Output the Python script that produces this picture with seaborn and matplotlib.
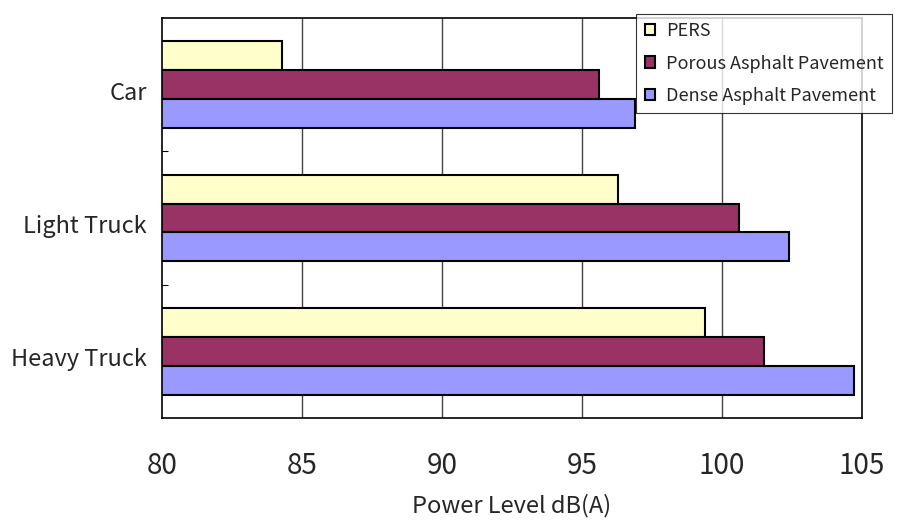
import matplotlib
matplotlib.use("Agg")
import matplotlib.pyplot as plt
import matplotlib.transforms as mtransforms
import seaborn as sns
import pandas as pd

vehicles = ["Car", "Light Truck", "Heavy Truck"]
surfaces = ["PERS", "Porous Asphalt Pavement", "Dense Asphalt Pavement"]
pers = [84.3, 96.3, 99.4]
porous = [95.6, 100.6, 101.5]
dense = [96.9, 102.4, 104.7]
x_ticks = [80, 85, 90, 95, 100, 105]
colors = ["#FFFFCC", "#993366", "#9999FF"]

rows = []
for surface, values in zip(surfaces, [pers, porous, dense]):
    for vehicle, v in zip(vehicles, values):
        rows.append({"vehicle": vehicle, "surface": surface, "level": v})
df = pd.DataFrame(rows)

sns.set_theme(style="white")
plt.rcParams["font.family"] = ["Noto Sans CJK JP", "DejaVu Sans"]

fig = plt.figure(figsize=(8.97, 5.21), dpi=100)
ax = fig.add_axes([162 / 897, 1 - 418 / 521, 700 / 897, 400 / 521])

sns.barplot(
    data=df, x="level", y="vehicle", hue="surface", orient="h",
    order=vehicles, hue_order=surfaces, palette=colors, saturation=1,
    width=0.65, edgecolor="black", linewidth=1.5, ax=ax, errorbar=None,
)

ax.set_xlim(80, 105)
ax.set_ylim(2.5, -0.5)
ax.set_xticks(x_ticks)
ax.set_xticklabels([str(t) for t in x_ticks], fontsize=20)
ax.tick_params(axis="x", length=0, pad=24)
ax.set_yticks([0, 1, 2])
ax.set_yticklabels(vehicles, fontsize=17)
ax.tick_params(axis="y", length=0, pad=11)
ax.set_yticks([0.5, 1.5], minor=True)
ax.tick_params(axis="y", which="minor", direction="in", length=4.5, width=0.8,
               color="black", left=True)

# nudge category labels slightly downward
shift = mtransforms.ScaledTranslation(0, -6 / 100, fig.dpi_scale_trans)
for lab in ax.get_yticklabels():
    lab.set_transform(lab.get_transform() + shift)

for v in x_ticks[1:-1]:
    ax.axvline(v, color="#444444", lw=1.0, zorder=0)

for s in ax.spines.values():
    s.set_visible(True)
    s.set_color("black")
    s.set_linewidth(1.2)

ax.set_ylabel("")
ax.set_xlabel("Power Level dB(A)", fontsize=17, labelpad=9)

handles, labels = ax.get_legend_handles_labels()
ax.get_legend().remove()
leg = fig.legend(
    handles, labels, loc="upper right", bbox_to_anchor=(892 / 897, 1 - 14 / 521),
    fontsize=13, frameon=True, fancybox=False, handlelength=0.6,
    handleheight=0.6, handletextpad=0.6, labelspacing=0.8, borderpad=0.45,
    borderaxespad=0,
)
leg.get_frame().set_edgecolor("black")
leg.get_frame().set_linewidth(0.8)
leg.set_zorder(10)

fig.savefig("out.png", dpi=100)
